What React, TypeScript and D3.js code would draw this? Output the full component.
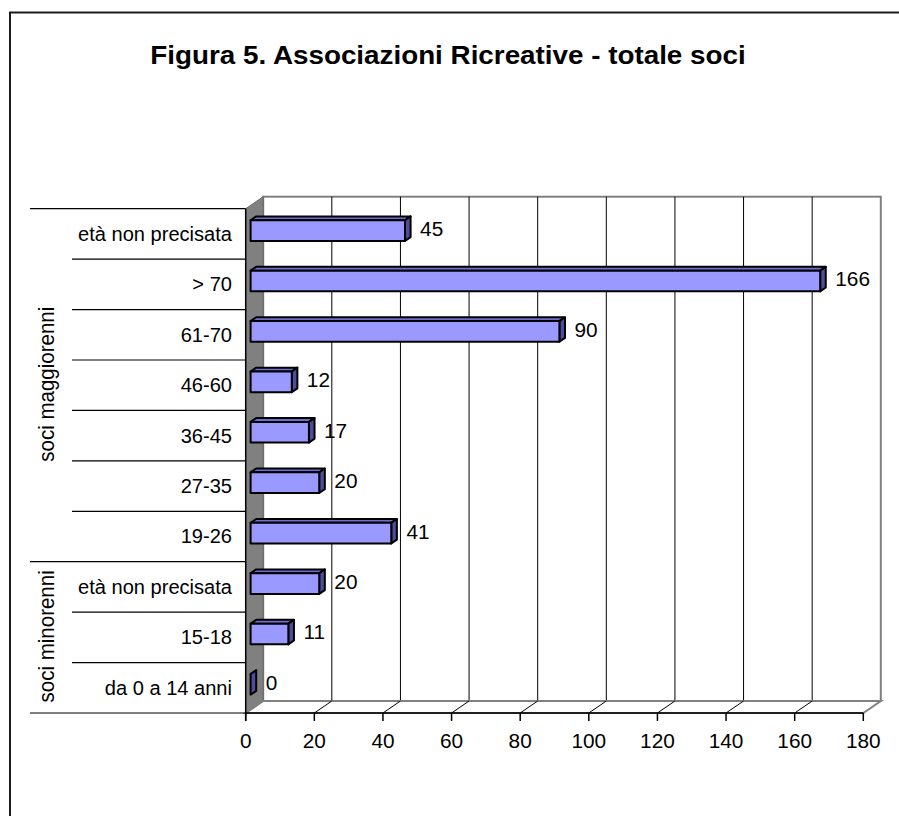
import React from "react";
import * as d3 from "d3";

const categories = [
  "età non precisata",
  "> 70",
  "61-70",
  "46-60",
  "36-45",
  "27-35",
  "19-26",
  "età non precisata",
  "15-18",
  "da 0 a 14 anni",
];
const values = [45, 166, 90, 12, 17, 20, 41, 20, 11, 0];
const groupNames = ["soci maggiorenni", "soci minorenni"];
const groupSizes = [7, 3];
const tickValues = [0, 20, 40, 60, 80, 100, 120, 140, 160, 180];
const title = "Figura 5. Associazioni Ricreative - totale soci";

const W = 899;
const H = 816;
const FONT = "'Liberation Sans', Arial, sans-serif";

export default function App() {
  const x0 = 245.7;
  const x1 = 863.3;
  const yTop = 208.7;
  const yBot = 713;
  const DX = 17.5;
  const DY = -12;
  const x = d3.scaleLinear().domain([0, 180]).range([x0, x1]);
  const idx = categories.map((_, i) => i);
  const y = d3.scaleBand<number>().domain(idx).range([yTop, yBot]);
  const bw = y.bandwidth();
  const dF = 0.28;
  const dB = 0.6;
  const halfH = bw * 0.205;

  const pts = (p: number[][]) => p.map((q) => q.join(",")).join(" ");

  const groupBounds: number[] = [0];
  groupSizes.forEach((s, i) => groupBounds.push(groupBounds[i] + s));

  return (
    <svg
      width={W}
      height={H}
      style={{ position: "absolute", left: 0, top: 0, background: "#fff" }}
      fontFamily={FONT}
    >
      <rect x={0} y={0} width={W} height={H} fill="#fff" />
      <rect x={10} y={12.5} width={1200} height={1200} fill="none" stroke="#1a1a1a" strokeWidth={2} />
      <text
        transform={`translate(448,63.5) scale(1.07,1)`}
        textAnchor="middle"
        fontSize={26}
        fontWeight="bold"
        fill="#000"
      >
        {title}
      </text>

      {/* back wall */}
      <rect x={x0 + DX} y={yTop + DY} width={x1 - x0} height={yBot - yTop} fill="#fff" stroke="#808080" strokeWidth={2} />
      {tickValues.slice(1, -1).map((t) => (
        <line key={"g" + t} x1={x(t) + DX} x2={x(t) + DX} y1={yTop + DY} y2={yBot + DY} stroke="#000" strokeWidth={1} />
      ))}
      {/* left wall */}
      <polygon
        points={pts([
          [x0, yTop],
          [x0 + DX, yTop + DY],
          [x0 + DX, yBot + DY],
          [x0, yBot],
        ])}
        fill="#808080"
        stroke="#666"
        strokeWidth={1}
      />
      {/* floor */}
      <polygon
        points={pts([
          [x0, yBot],
          [x0 + DX, yBot + DY],
          [x1 + DX, yBot + DY],
          [x1, yBot],
        ])}
        fill="#fff"
        stroke="#808080"
        strokeWidth={2}
      />
      {tickValues.slice(1, -1).map((t) => (
        <line key={"f" + t} x1={x(t)} x2={x(t) + DX} y1={yBot} y2={yBot + DY} stroke="#000" strokeWidth={1} />
      ))}
      <line x1={x0} x2={x0 + DX} y1={yBot} y2={yBot + DY} stroke="#808080" strokeWidth={1.5} />
      {/* front axis */}
      <line x1={x0} x2={x1} y1={yBot} y2={yBot} stroke="#000" strokeWidth={1.5} />
      <line x1={x0} x2={x0} y1={yTop} y2={yBot + 8} stroke="#000" strokeWidth={1.5} />
      {tickValues.map((t) => (
        <line key={"t" + t} x1={x(t)} x2={x(t)} y1={yBot} y2={yBot + 8} stroke="#000" strokeWidth={1.5} />
      ))}
      {tickValues.map((t) => (
        <text
          key={"tl" + t}
          transform={`translate(${x(t)},747.5) scale(1.04,1)`}
          textAnchor="middle"
          fontSize={20}
          fill="#000"
        >
          {t}
        </text>
      ))}

      {/* category separator lines */}
      {d3.range(categories.length + 1).map((k) => {
        const yy = yTop + k * bw;
        const isGroup = groupBounds.includes(k);
        return (
          <line key={"c" + k} x1={isGroup ? 30 : 72} x2={x0} y1={yy} y2={yy} stroke="#000" strokeWidth={1.2} />
        );
      })}
      {categories.map((c, i) => (
        <text
          key={"cl" + i}
          transform={`translate(232,${(y(i) as number) + bw / 2 + 7}) scale(1.03,1)`}
          textAnchor="end"
          fontSize={19.5}
          fill="#000"
        >
          {c}
        </text>
      ))}
      {groupNames.map((g, gi) => {
        const ya = yTop + groupBounds[gi] * bw;
        const yb = yTop + groupBounds[gi + 1] * bw;
        return (
          <text
            key={"gr" + gi}
            transform={`translate(54,${(ya + yb) / 2 - 1}) scale(1.06,1) rotate(-90)`}
            textAnchor="middle"
            fontSize={20.5}
            fill="#000"
          >
            {g}
          </text>
        );
      })}

      {/* bars */}
      {values.map((v, i) => {
        const cy = (y(i) as number) + bw / 2;
        const fx0 = x0 + dF * DX;
        const fx1 = x(v) + dF * DX;
        const bx0 = x0 + dB * DX;
        const bx1 = x(v) + dB * DX;
        const ft = cy + dF * DY - halfH;
        const fb = cy + dF * DY + halfH;
        const bt = cy + dB * DY - halfH;
        const bb = cy + dB * DY + halfH;
        return (
          <g key={"b" + i} stroke="#000" strokeWidth={2} strokeLinejoin="round">
            <polygon points={pts([[fx0, ft], [bx0, bt], [bx1, bt], [fx1, ft]])} fill="#6E6ECF" />
            <polygon points={pts([[fx1, ft], [bx1, bt], [bx1, bb], [fx1, fb]])} fill="#4D4D99" />
            {v > 0 && <rect x={fx0} y={ft} width={fx1 - fx0} height={fb - ft} fill="#9999FF" />}
          </g>
        );
      })}
      {values.map((v, i) => {
        const cy = (y(i) as number) + bw / 2 + 0.44 * DY;
        return (
          <text
            key={"dl" + i}
            transform={`translate(${x(v) + dB * DX + 9.5},${cy + 7.3}) scale(1.04,1)`}
            textAnchor="start"
            fontSize={20}
            fill="#000"
          >
            {v}
          </text>
        );
      })}
    </svg>
  );
}
